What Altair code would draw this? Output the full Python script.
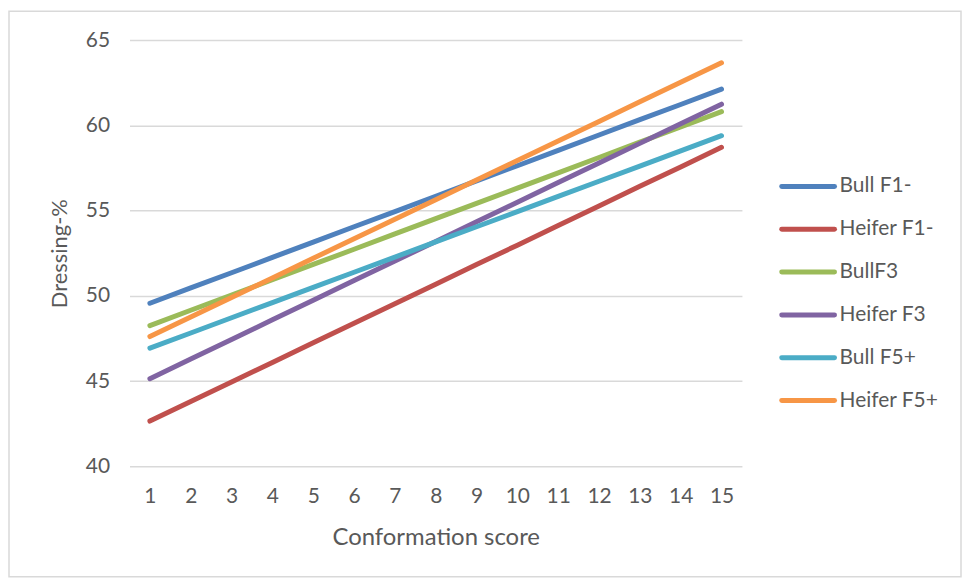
import altair as alt
import pandas as pd

# ---- data ----
scores = list(range(1, 16))
series_names = ["Bull F1-", "Heifer F1-", "BullF3", "Heifer F3", "Bull F5+", "Heifer F5+"]
bull_f1 = [49.56, 50.46, 51.35, 52.25, 53.15, 54.05, 54.94, 55.84, 56.74, 57.63, 58.53, 59.43, 60.33, 61.22, 62.12]
heifer_f1 = [42.65, 43.80, 44.94, 46.09, 47.24, 48.39, 49.53, 50.68, 51.83, 52.97, 54.12, 55.27, 56.42, 57.56, 58.71]
bull_f3 = [48.25, 49.15, 50.04, 50.94, 51.84, 52.73, 53.63, 54.53, 55.42, 56.32, 57.21, 58.11, 59.01, 59.90, 60.80]
heifer_f3 = [45.14, 46.29, 47.44, 48.59, 49.74, 50.89, 52.04, 53.19, 54.34, 55.49, 56.64, 57.79, 58.94, 60.09, 61.24]
bull_f5 = [46.93, 47.82, 48.71, 49.60, 50.49, 51.38, 52.27, 53.16, 54.05, 54.94, 55.83, 56.72, 57.61, 58.50, 59.39]
heifer_f5 = [47.61, 48.76, 49.90, 51.05, 52.20, 53.35, 54.49, 55.64, 56.79, 57.93, 59.08, 60.23, 61.38, 62.52, 63.67]
y_ticks = [40, 45, 50, 55, 60, 65]
colors = ["#4F81BD", "#C0504D", "#9BBB59", "#8064A2", "#4BACC6", "#F79646"]

all_vals = [bull_f1, heifer_f1, bull_f3, heifer_f3, bull_f5, heifer_f5]
rows = []
for name, vals in zip(series_names, all_vals):
    for s, v in zip(scores, vals):
        rows.append({"series": name, "score": s, "value": v})
df = pd.DataFrame(rows)
legend_df = pd.DataFrame({"series": series_names})

FONT = "Lato"
TXT = "#595959"

color_scale = alt.Scale(domain=series_names, range=colors)

border = alt.Chart(pd.DataFrame({"a": [0]})).mark_rect(
    fill="transparent", stroke="#D9D9D9", strokeWidth=1.5
).encode(
    x=alt.value(-121), x2=alt.value(835), y=alt.value(-29), y2=alt.value(539)
)

lines = alt.Chart(df).mark_line(strokeWidth=5, strokeCap="round", strokeJoin="round").encode(
    x=alt.X("score:Q",
            scale=alt.Scale(domain=[0.5, 15.5], nice=False, zero=False),
            axis=alt.Axis(values=scores, title="Conformation score", grid=False, ticks=False,
                          domain=False, labelPadding=19, titlePadding=20, format="d",
                          titleFontSize=24)),
    y=alt.Y("value:Q",
            scale=alt.Scale(domain=[40, 65], nice=False, zero=False),
            axis=alt.Axis(values=y_ticks, title="Dressing-%", grid=True, ticks=False,
                          domain=False, labelPadding=20, titlePadding=14,
                          titleFontSize=22)),
    color=alt.Color("series:N", scale=color_scale, legend=None),
    detail="series:N",
)

leg_y = alt.Y("series:N", sort=series_names,
              scale=alt.Scale(type="point", domain=series_names, range=[147, 362], padding=0),
              axis=None)

leg_rule = alt.Chart(legend_df).mark_rule(strokeWidth=5, strokeCap="round").encode(
    x=alt.value(655), x2=alt.value(708), y=leg_y,
    color=alt.Color("series:N", scale=color_scale, legend=None),
)
leg_text = alt.Chart(legend_df).mark_text(
    align="left", baseline="middle", font=FONT, fontSize=21, color=TXT
).encode(
    x=alt.value(713), y=leg_y, text="series:N"
)

chart = alt.layer(border, lines, leg_rule, leg_text).resolve_scale(y="independent").properties(
    width=615, height=428,
    autosize=alt.AutoSizeParams(type="none"),
    padding={"left": 122, "top": 31, "right": 221, "bottom": 113},
    background="white",
).configure_view(stroke="transparent").configure_axis(
    labelFont=FONT, titleFont=FONT, labelColor=TXT, titleColor=TXT,
    labelFontSize=21, titleFontWeight="normal",
    gridColor="#D9D9D9", gridWidth=1.5,
)

chart.save("out.html", embed_options={"renderer": "svg", "actions": False})
